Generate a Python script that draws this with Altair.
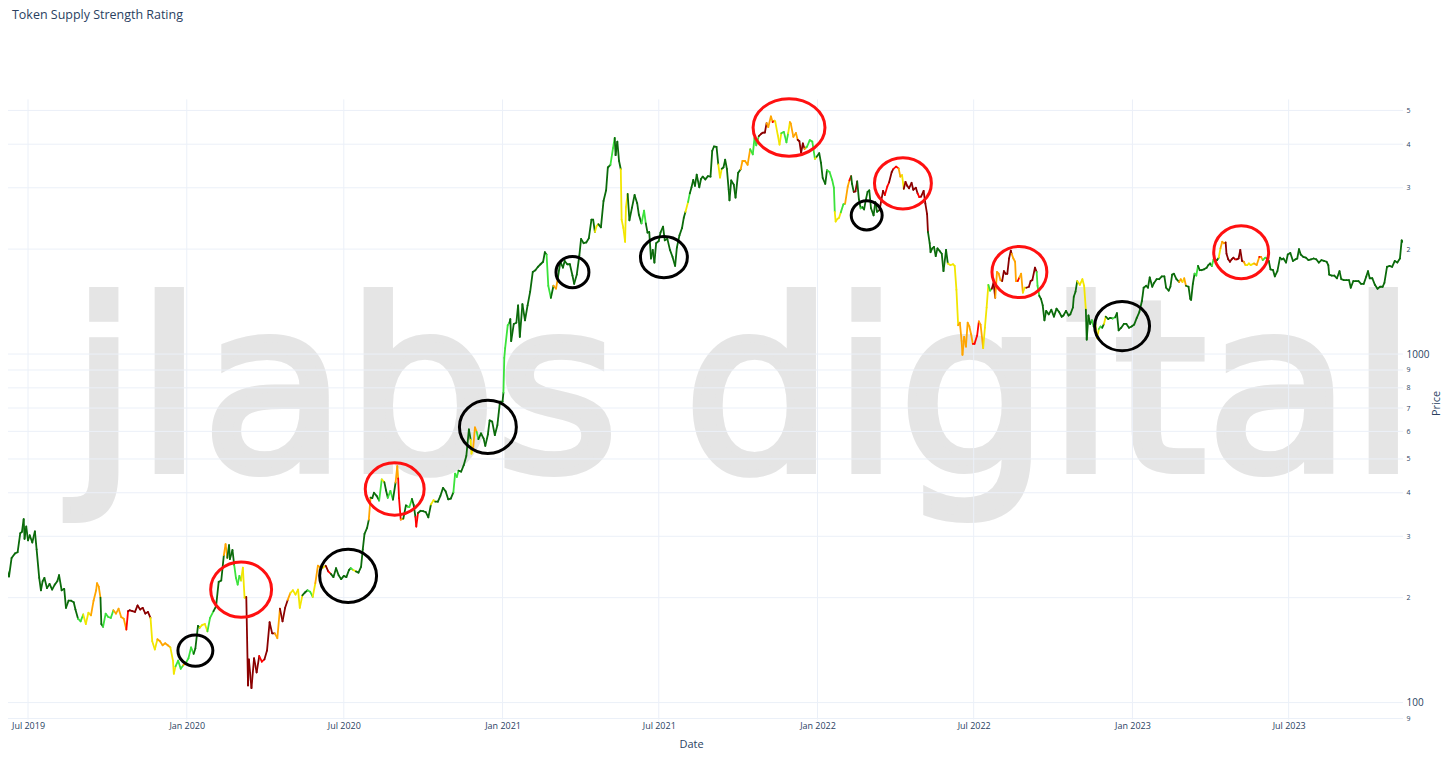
import altair as alt
import pandas as pd

TITLE = "Token Supply Strength Rating"
WATERMARK_WORDS = ["jlabs", "digital"]

# ETH price readings (month-day, USD) per year
eth_2019 = [
    ("06-05", 247), ("06-09", 230), ("06-12", 260), ("06-16", 268), ("06-19", 270), ("06-22", 306), ("06-24", 309), ("06-26", 336), ("06-27", 295), ("06-29", 320),
    ("07-01", 292), ("07-03", 302), ("07-06", 288), ("07-09", 310), ("07-11", 275), ("07-14", 228), ("07-16", 210), ("07-18", 223), ("07-20", 228), ("07-23", 213), ("07-26", 219), ("07-29", 211),
    ("08-01", 218), ("08-04", 223), ("08-06", 232), ("08-09", 210), ("08-12", 212), ("08-14", 187), ("08-17", 196), ("08-20", 196), ("08-23", 194), ("08-25", 185), ("08-28", 174), ("08-31", 171),
    ("09-03", 179), ("09-06", 168), ("09-09", 181), ("09-12", 178), ("09-15", 196), ("09-18", 210), ("09-19", 220), ("09-21", 215), ("09-23", 200), ("09-24", 168), ("09-26", 165), ("09-29", 180),
    ("10-02", 176), ("10-05", 175), ("10-08", 184), ("10-11", 180), ("10-14", 186), ("10-17", 176), ("10-20", 174), ("10-23", 162), ("10-25", 183), ("10-27", 184), ("10-30", 183),
    ("11-02", 182), ("11-05", 190), ("11-08", 185), ("11-11", 187), ("11-14", 180), ("11-17", 182), ("11-20", 175), ("11-22", 150), ("11-25", 142), ("11-28", 152),
    ("12-01", 150), ("12-04", 146), ("12-07", 148), ("12-10", 146), ("12-13", 144), ("12-16", 132), ("12-17", 121), ("12-19", 127), ("12-22", 132), ("12-25", 125), ("12-28", 128), ("12-31", 130),
]
eth_2020 = [
    ("01-03", 134), ("01-06", 144), ("01-09", 138), ("01-11", 143), ("01-14", 166), ("01-16", 164), ("01-19", 167), ("01-22", 168), ("01-25", 160), ("01-28", 175),
    ("02-01", 183), ("02-04", 189), ("02-07", 222), ("02-10", 224), ("02-13", 265), ("02-15", 285), ("02-17", 260), ("02-19", 283), ("02-20", 258), ("02-23", 274), ("02-25", 248), ("02-27", 228), ("02-29", 218),
    ("03-02", 231), ("03-04", 224), ("03-06", 244), ("03-08", 200), ("03-10", 201), ("03-12", 112), ("03-13", 133), ("03-16", 110), ("03-19", 134), ("03-22", 122), ("03-25", 136), ("03-28", 131), ("03-31", 133),
    ("04-03", 141), ("04-06", 170), ("04-09", 158), ("04-12", 158), ("04-15", 153), ("04-18", 186), ("04-21", 171), ("04-24", 187), ("04-27", 197), ("04-30", 206),
    ("05-03", 210), ("05-06", 204), ("05-09", 211), ("05-11", 187), ("05-14", 203), ("05-17", 207), ("05-20", 210), ("05-23", 208), ("05-26", 201), ("05-29", 220),
    ("06-01", 247), ("06-04", 244), ("06-07", 244), ("06-10", 247), ("06-13", 238), ("06-16", 234), ("06-19", 229), ("06-22", 243), ("06-25", 232), ("06-28", 226),
    ("07-01", 231), ("07-04", 229), ("07-07", 240), ("07-09", 243), ("07-12", 240), ("07-15", 238), ("07-18", 236), ("07-21", 245), ("07-23", 275), ("07-25", 305), ("07-28", 317), ("07-30", 335),
    ("08-01", 387), ("08-03", 386), ("08-05", 400), ("08-08", 392), ("08-11", 380), ("08-14", 437), ("08-17", 429), ("08-19", 406), ("08-21", 387), ("08-24", 405), ("08-27", 382), ("08-30", 428),
    ("09-01", 477), ("09-02", 440), ("09-03", 386), ("09-05", 335), ("09-08", 337), ("09-11", 368), ("09-13", 365), ("09-15", 364), ("09-18", 384), ("09-20", 369), ("09-22", 341), ("09-23", 320), ("09-25", 350), ("09-28", 355),
    ("10-01", 354), ("10-04", 352), ("10-07", 340), ("10-10", 370), ("10-13", 381), ("10-15", 377), ("10-18", 377), ("10-21", 392), ("10-24", 413), ("10-27", 404), ("10-30", 383),
    ("11-02", 385), ("11-05", 401), ("11-07", 454), ("11-09", 444), ("11-11", 463), ("11-14", 460), ("11-17", 480), ("11-20", 510), ("11-23", 608), ("11-25", 568), ("11-26", 518), ("11-28", 540), ("11-30", 616),
    ("12-02", 598), ("12-04", 570), ("12-07", 592), ("12-10", 573), ("12-12", 545), ("12-15", 588), ("12-17", 645), ("12-20", 640), ("12-23", 585), ("12-26", 625), ("12-29", 730),
]
eth_2021 = [
    ("01-01", 730), ("01-02", 775), ("01-03", 975), ("01-04", 1040), ("01-07", 1210), ("01-09", 1230), ("01-10", 1260), ("01-11", 1090), ("01-14", 1220), ("01-17", 1230), ("01-19", 1380), ("01-21", 1120), ("01-24", 1390), ("01-27", 1250), ("01-30", 1380),
    ("02-02", 1510), ("02-05", 1720), ("02-08", 1740), ("02-11", 1780), ("02-14", 1810), ("02-17", 1840), ("02-19", 1960), ("02-21", 1930), ("02-23", 1570), ("02-26", 1450),
    ("03-01", 1570), ("03-04", 1540), ("03-06", 1650), ("03-09", 1840), ("03-12", 1770), ("03-14", 1850), ("03-17", 1810), ("03-20", 1810), ("03-23", 1680), ("03-25", 1590), ("03-28", 1690), ("03-31", 1920),
    ("04-02", 2140), ("04-05", 2080), ("04-08", 2090), ("04-11", 2150), ("04-14", 2430), ("04-16", 2430), ("04-18", 2240), ("04-20", 2330), ("04-22", 2360), ("04-25", 2310), ("04-28", 2750),
    ("05-01", 2950), ("05-03", 3430), ("05-06", 3490), ("05-09", 3900), ("05-11", 4170), ("05-12", 3720), ("05-14", 4070), ("05-16", 3580), ("05-18", 3390), ("05-19", 2430), ("05-21", 2300), ("05-23", 2100), ("05-24", 2640), ("05-26", 2880), ("05-28", 2420), ("05-31", 2630),
    ("06-03", 2860), ("06-06", 2710), ("06-08", 2510), ("06-11", 2370), ("06-14", 2580), ("06-16", 2370), ("06-18", 2230), ("06-20", 2240), ("06-22", 1880), ("06-24", 1990), ("06-26", 1830), ("06-28", 2080),
    ("07-01", 2110), ("07-03", 2230), ("07-06", 2320), ("07-08", 2120), ("07-11", 2140), ("07-14", 1990), ("07-17", 1900), ("07-20", 1790), ("07-22", 2020), ("07-25", 2190), ("07-28", 2300), ("07-30", 2460),
    ("08-01", 2560), ("08-04", 2730), ("08-06", 2890), ("08-08", 3010), ("08-10", 3160), ("08-12", 3040), ("08-14", 3270), ("08-17", 3010), ("08-19", 3180), ("08-21", 3230), ("08-24", 3170), ("08-27", 3240), ("08-30", 3230),
    ("09-01", 3830), ("09-03", 3940), ("09-06", 3930), ("09-08", 3500), ("09-10", 3210), ("09-12", 3400), ("09-14", 3430), ("09-16", 3610), ("09-18", 3400), ("09-20", 2970), ("09-21", 2760), ("09-23", 3150), ("09-26", 3060), ("09-28", 2810),
    ("10-01", 3310), ("10-04", 3390), ("10-06", 3580), ("10-09", 3580), ("10-12", 3490), ("10-15", 3870), ("10-18", 3740), ("10-20", 4170), ("10-22", 3970), ("10-25", 4220), ("10-28", 4290), ("10-30", 4320),
    ("11-01", 4320), ("11-03", 4600), ("11-05", 4480), ("11-08", 4810), ("11-10", 4630), ("11-12", 4670), ("11-13", 4650), ("11-16", 4240), ("11-18", 3990), ("11-20", 4300), ("11-23", 4340), ("11-26", 4050), ("11-28", 4300), ("11-30", 4630),
    ("12-01", 4590), ("12-04", 4200), ("12-07", 4310), ("12-09", 4120), ("12-11", 4080), ("12-13", 3780), ("12-15", 4020), ("12-17", 3880), ("12-19", 3920), ("12-20", 3940), ("12-23", 4110), ("12-26", 4070), ("12-29", 3630), ("12-31", 3680),
]
eth_2022 = [
    ("01-03", 3770), ("01-05", 3540), ("01-07", 3200), ("01-10", 3080), ("01-12", 3370), ("01-15", 3330), ("01-18", 3160), ("01-20", 3000), ("01-21", 2560), ("01-22", 2400), ("01-24", 2440), ("01-26", 2460), ("01-28", 2550), ("01-31", 2690),
    ("02-02", 2700), ("02-05", 3020), ("02-07", 3150), ("02-09", 3240), ("02-10", 3080), ("02-12", 2920), ("02-14", 2930), ("02-16", 3130), ("02-18", 2780), ("02-20", 2620), ("02-22", 2640), ("02-24", 2600), ("02-26", 2770), ("02-28", 2920),
    ("03-02", 2950), ("03-04", 2620), ("03-07", 2500), ("03-09", 2730), ("03-11", 2560), ("03-14", 2590), ("03-16", 2770), ("03-18", 2940), ("03-20", 2860), ("03-23", 3030), ("03-25", 3110), ("03-28", 3330), ("03-30", 3400),
    ("04-02", 3450), ("04-05", 3410), ("04-07", 3230), ("04-09", 3260), ("04-11", 2980), ("04-13", 3120), ("04-15", 3040), ("04-17", 2990), ("04-20", 3100), ("04-22", 2960), ("04-25", 3000), ("04-27", 2890), ("04-29", 2820),
    ("05-01", 2830), ("05-04", 2940), ("05-06", 2700), ("05-08", 2520), ("05-09", 2240), ("05-11", 2080), ("05-12", 1960), ("05-14", 2010), ("05-16", 2030), ("05-18", 1910), ("05-20", 2010), ("05-23", 1970), ("05-25", 1940), ("05-27", 1730), ("05-30", 1990),
    ("06-01", 1820), ("06-04", 1800), ("06-07", 1810), ("06-09", 1790), ("06-11", 1530), ("06-13", 1210), ("06-15", 1230), ("06-17", 1090), ("06-18", 995), ("06-20", 1120), ("06-22", 1050), ("06-24", 1230), ("06-26", 1200), ("06-28", 1140), ("06-30", 1070),
    ("07-02", 1070), ("07-05", 1130), ("07-07", 1240), ("07-09", 1215), ("07-12", 1040), ("07-14", 1190), ("07-16", 1360), ("07-18", 1580), ("07-20", 1520), ("07-22", 1540), ("07-24", 1600), ("07-26", 1450), ("07-28", 1720), ("07-30", 1700),
    ("08-01", 1630), ("08-03", 1620), ("08-05", 1730), ("08-07", 1700), ("08-09", 1700), ("08-11", 1880), ("08-13", 1980), ("08-14", 1940), ("08-16", 1880), ("08-18", 1840), ("08-19", 1620), ("08-21", 1620), ("08-23", 1660), ("08-25", 1700), ("08-27", 1500), ("08-29", 1550), ("08-31", 1550),
    ("09-03", 1560), ("09-05", 1620), ("09-07", 1630), ("09-10", 1770), ("09-12", 1720), ("09-13", 1570), ("09-15", 1470), ("09-17", 1440), ("09-19", 1380), ("09-21", 1250), ("09-23", 1330), ("09-26", 1300), ("09-29", 1340),
    ("10-02", 1280), ("10-05", 1350), ("10-08", 1320), ("10-11", 1280), ("10-13", 1290), ("10-16", 1330), ("10-19", 1290), ("10-21", 1300), ("10-24", 1360), ("10-25", 1460), ("10-27", 1510), ("10-29", 1620),
    ("11-01", 1580), ("11-04", 1640), ("11-06", 1570), ("11-08", 1340), ("11-09", 1100), ("11-11", 1290), ("11-13", 1220), ("11-15", 1250), ("11-17", 1200), ("11-19", 1220), ("11-21", 1110), ("11-23", 1180), ("11-25", 1200), ("11-27", 1190), ("11-29", 1220),
    ("12-01", 1280), ("12-04", 1260), ("12-06", 1270), ("12-09", 1265), ("12-12", 1275), ("12-14", 1310), ("12-16", 1170), ("12-19", 1190), ("12-22", 1220), ("12-25", 1220), ("12-28", 1190), ("12-31", 1200),
]
eth_2023 = [
    ("01-03", 1215), ("01-06", 1270), ("01-09", 1320), ("01-12", 1420), ("01-14", 1550), ("01-17", 1570), ("01-19", 1550), ("01-21", 1660), ("01-24", 1560), ("01-26", 1600), ("01-29", 1640),
    ("02-01", 1640), ("02-04", 1670), ("02-07", 1670), ("02-09", 1550), ("02-12", 1520), ("02-14", 1560), ("02-16", 1690), ("02-18", 1700), ("02-21", 1640), ("02-24", 1610), ("02-26", 1640), ("02-28", 1610),
    ("03-02", 1650), ("03-04", 1570), ("03-07", 1560), ("03-09", 1440), ("03-10", 1430), ("03-12", 1590), ("03-14", 1700), ("03-16", 1680), ("03-18", 1790), ("03-20", 1740), ("03-22", 1740), ("03-25", 1750), ("03-28", 1770), ("03-30", 1800),
    ("04-01", 1820), ("04-03", 1790), ("04-05", 1870), ("04-07", 1860), ("04-09", 1860), ("04-11", 1890), ("04-13", 2010), ("04-15", 2100), ("04-17", 2080), ("04-19", 2090), ("04-20", 1940), ("04-22", 1870), ("04-24", 1840), ("04-26", 1870), ("04-28", 1890), ("04-30", 1870),
    ("05-02", 1870), ("05-04", 1880), ("05-06", 1990), ("05-08", 1850), ("05-10", 1840), ("05-12", 1800), ("05-14", 1800), ("05-16", 1820), ("05-18", 1800), ("05-20", 1810), ("05-22", 1820), ("05-25", 1800), ("05-28", 1900), ("05-30", 1900),
    ("06-01", 1860), ("06-04", 1890), ("06-06", 1880), ("06-08", 1850), ("06-10", 1750), ("06-13", 1740), ("06-15", 1670), ("06-18", 1730), ("06-21", 1890), ("06-23", 1870), ("06-25", 1880), ("06-28", 1830), ("06-30", 1930),
    ("07-03", 1950), ("07-06", 1850), ("07-09", 1870), ("07-11", 1880), ("07-13", 2000), ("07-15", 1930), ("07-18", 1900), ("07-21", 1890), ("07-24", 1860), ("07-27", 1870), ("07-30", 1880),
    ("08-02", 1870), ("08-05", 1830), ("08-08", 1860), ("08-11", 1850), ("08-14", 1840), ("08-16", 1800), ("08-17", 1690), ("08-20", 1680), ("08-23", 1680), ("08-26", 1650), ("08-29", 1730), ("08-31", 1640),
    ("09-03", 1630), ("09-06", 1630), ("09-09", 1630), ("09-11", 1550), ("09-14", 1620), ("09-17", 1620), ("09-20", 1620), ("09-23", 1590), ("09-26", 1590), ("09-29", 1670),
    ("10-01", 1730), ("10-03", 1650), ("10-06", 1650), ("10-09", 1580), ("10-12", 1540), ("10-15", 1560), ("10-18", 1560), ("10-20", 1600), ("10-23", 1780), ("10-26", 1790), ("10-29", 1780),
    ("11-01", 1850), ("11-04", 1830), ("11-07", 1880), ("11-09", 2120), ("11-10", 2100),
]

# Supply strength rating: date from which each rating applies
rating_start = [
    "2019-06-01", "2019-08-27", "2019-09-02", "2019-09-11", "2019-09-22", "2019-09-25", "2019-10-07", "2019-10-22", "2019-10-24", "2019-11-19",
    "2019-11-27", "2019-12-12", "2019-12-18", "2019-12-27", "2019-12-30", "2020-01-08", "2020-01-15", "2020-01-24", "2020-01-31", "2020-02-12",
    "2020-02-16", "2020-02-24", "2020-03-03", "2020-03-10", "2020-03-24", "2020-03-30", "2020-04-11", "2020-04-17", "2020-04-26", "2020-04-29",
    "2020-05-13", "2020-05-19", "2020-05-25", "2020-05-28", "2020-06-03", "2020-06-09", "2020-06-12", "2020-06-15", "2020-07-08", "2020-07-11",
    "2020-07-14", "2020-07-29", "2020-07-31", "2020-08-10", "2020-08-13", "2020-08-16", "2020-08-20", "2020-08-26", "2020-08-29", "2020-09-02",
    "2020-09-04", "2020-09-07", "2020-09-12", "2020-09-17", "2020-09-21", "2020-09-24", "2020-10-09", "2020-10-14", "2020-11-04", "2020-11-10",
    "2020-11-25", "2020-11-28", "2020-12-01", "2020-12-03", "2021-01-02", "2021-01-09", "2021-02-20", "2021-02-25", "2021-02-28", "2021-03-05",
    "2021-04-17", "2021-04-21", "2021-05-05", "2021-05-11", "2021-05-17", "2021-05-25", "2021-06-10", "2021-06-15", "2021-07-31", "2021-08-03",
    "2021-08-05", "2021-09-07", "2021-09-11", "2021-10-02", "2021-10-14", "2021-10-25", "2021-11-02", "2021-11-09", "2021-11-12", "2021-11-19",
    "2021-11-27", "2021-11-30", "2021-12-08", "2021-12-16", "2021-12-19", "2021-12-28", "2021-12-31", "2022-01-12", "2022-01-21", "2022-01-27",
    "2022-02-01", "2022-02-06", "2022-02-08", "2022-02-11", "2022-02-15", "2022-02-19", "2022-02-21", "2022-03-13", "2022-03-19", "2022-03-24",
    "2022-03-29", "2022-04-04", "2022-04-08", "2022-04-10", "2022-04-26", "2022-04-30", "2022-05-09", "2022-05-31", "2022-06-13", "2022-06-30",
    "2022-07-07", "2022-07-11", "2022-07-17", "2022-07-21", "2022-07-25", "2022-08-02", "2022-08-14", "2022-08-20", "2022-08-22", "2022-08-26",
    "2022-08-30", "2022-09-11", "2022-09-14", "2022-10-28", "2022-11-07", "2022-11-14", "2022-11-18", "2022-11-22", "2022-11-26", "2022-11-28",
    "2022-11-30", "2022-12-08", "2022-12-11", "2023-02-24", "2023-02-27", "2023-03-01", "2023-03-03", "2023-03-13", "2023-03-17", "2023-04-02",
    "2023-04-06", "2023-04-10", "2023-04-12", "2023-04-18", "2023-04-19", "2023-04-29", "2023-05-01", "2023-05-09", "2023-05-11", "2023-05-21",
    "2023-05-27", "2023-05-29", "2023-05-31", "2023-06-05",
]
rating_code = [
    "dg", "lg", "y", "o", "dg", "lg", "o", "r", "dr", "y",
    "o", "y", "lg", "o", "lg", "dg", "y", "lg", "dg", "o",
    "dg", "lg", "y", "dr", "r", "dr", "o", "dr", "o", "y",
    "dg", "lg", "y", "o", "y", "dr", "r", "dg", "lg", "y",
    "dg", "o", "dg", "lg", "y", "dg", "lg", "dg", "o", "r",
    "o", "dg", "lg", "dg", "r", "dg", "y", "dg", "lg", "dg",
    "y", "o", "lg", "dg", "lg", "dg", "lg", "dg", "o", "dg",
    "y", "dg", "lg", "dg", "y", "dg", "lg", "dg", "y", "lg",
    "dg", "y", "dg", "o", "lg", "dr", "o", "r", "y", "lg",
    "y", "o", "dr", "o", "lg", "y", "dg", "lg", "y", "lg",
    "o", "r", "dg", "dr", "dg", "lg", "dg", "dr", "r", "dr",
    "r", "o", "y", "dr", "r", "dr", "dg", "y", "o", "r",
    "o", "y", "lg", "dr", "o", "dr", "o", "r", "o", "y",
    "dr", "lg", "dg", "y", "dg", "lg", "y", "lg", "dg", "y",
    "dg", "lg", "dg", "o", "y", "o", "dg", "lg", "dg", "lg",
    "dg", "y", "o", "r", "dr", "r", "dr", "o", "y", "o",
    "r", "o", "lg", "dg",
]
rating_levels = ["dg", "lg", "y", "o", "r", "dr"]
rating_colors = ["#0b6b0b", "#3be23b", "#f2e600", "#ffa500", "#ff0000", "#8b0000"]

# Annotation ellipses (centre date, centre price, width px, height px, colour)
circle_dates = ["2020-03-04", "2020-08-29", "2021-11-29", "2022-04-10", "2022-08-23", "2023-05-07",
                "2020-01-11", "2020-07-06", "2020-12-15", "2021-03-23", "2021-07-07", "2022-02-27", "2022-12-20"]
circle_prices = [211, 410, 4470, 3090, 1720, 1960, 141, 231, 618, 1718, 1897, 2500, 1203]
circle_w = [64, 62, 75, 60, 58, 58, 38, 60, 60, 36, 50, 34, 58]
circle_h = [58, 55, 60, 54, 54, 56, 34, 56, 56, 34, 44, 32, 52]
circle_colors = ["#ff1010"] * 6 + ["#000000"] * 7

y_ticks = [90, 100, 200, 300, 400, 500, 600, 700, 800, 900, 1000, 2000, 3000, 4000, 5000]
x_ticks = ["2019-07-01", "2020-01-01", "2020-07-01", "2021-01-01", "2021-07-01",
           "2022-01-01", "2022-07-01", "2023-01-01", "2023-07-01"]

# ---------------- build tables ----------------
rows = []
for year, pairs in [(2019, eth_2019), (2020, eth_2020), (2021, eth_2021), (2022, eth_2022), (2023, eth_2023)]:
    for md, p in pairs:
        rows.append((f"{year}-{md}", p))
df = pd.DataFrame(rows, columns=["date", "price"])
df["date"] = pd.to_datetime(df["date"])
df = df.sort_values("date").reset_index(drop=True)
runs = pd.DataFrame({"date": pd.to_datetime(rating_start), "rating": rating_code}).sort_values("date")
df = pd.merge_asof(df, runs, on="date", direction="backward")
df["rating"] = df["rating"].fillna("dg")
df["date2"] = df["date"].shift(-1)
df["price2"] = df["price"].shift(-1)
seg = df.iloc[:-1].copy()
for c in ["date", "date2"]:
    seg[c] = seg[c].dt.strftime("%Y-%m-%dT00:00:00")


def ellipse_path(r):
    k = 0.5523
    return (f"M -1 0 C -1 {-k*r:.4f} {-k:.4f} {-r:.4f} 0 {-r:.4f} "
            f"C {k:.4f} {-r:.4f} 1 {-k*r:.4f} 1 0 "
            f"C 1 {k*r:.4f} {k:.4f} {r:.4f} 0 {r:.4f} "
            f"C {-k:.4f} {r:.4f} -1 {k*r:.4f} -1 0 Z")


circ = pd.DataFrame({
    "date": [d + "T00:00:00" for d in circle_dates],
    "price": circle_prices,
    "size": [(w - 3) ** 2 for w in circle_w],
    "path": [ellipse_path(h / w) for w, h in zip(circle_w, circle_h)],
    "col": circle_colors,
})
ygrid_df = pd.DataFrame({"price": y_ticks})
xgrid_df = pd.DataFrame({"date": [d + "T00:00:00" for d in x_ticks]})

TXT = "#2a3f5f"
GRID = "#EBF0F8"
FONT = "Open Sans"
WM = "#e5e5e5"

x_scale = alt.Scale(domain=[alt.DateTime(year=2019, month=6, date=7, hours=20),
                            alt.DateTime(year=2023, month=11, date=10, hours=15)])
y_scale = alt.Scale(type="log", domain=[89.4, 5379], nice=False)

x_axis = alt.Axis(
    values=[alt.DateTime(year=int(d[:4]), month=int(d[5:7]), date=1) for d in x_ticks],
    format="%b %Y", labelFontSize=9, labelColor=TXT, labelFont=FONT, labelFlush=False,
    labelOverlap=False, ticks=False, domain=False, grid=False, labelPadding=2,
    title="Date", titleFont=FONT, titleFontSize=11, titleFontWeight="normal", titleColor=TXT,
    titleX=684, titleY=25, titleBaseline="middle", titleAlign="center",
)
y_axis = alt.Axis(
    orient="right", values=y_ticks,
    labelExpr=("datum.value == 100 || datum.value == 1000 ? '' + datum.value : "
               "format(round(datum.value / pow(10, floor(log(datum.value) / LN10 + 1e-9))), 'd')"),
    labelFontSize={"condition": {"test": "datum.value == 100 || datum.value == 1000", "value": 10}, "value": 7},
    labelColor=TXT, labelFont=FONT, labelPadding=3, labelOverlap=False, labelFlush=False,
    ticks=False, domain=False, grid=False,
    title="Price", titleFont=FONT, titleFontSize=11, titleFontWeight="normal", titleColor=TXT,
    titleAngle=270, titleX=33, titleY=304, titleAlign="center", titleBaseline="middle",
)

X = alt.X("date:T", scale=x_scale, axis=x_axis)
Y = alt.Y("price:Q", scale=y_scale, axis=y_axis)

wm_left = alt.Chart(pd.DataFrame({"t": [WATERMARK_WORDS[0]]})).mark_text(
    font="DejaVu Sans", fontSize=236, color=WM, stroke=WM, strokeWidth=8,
    align="left", baseline="alphabetic",
).encode(text="t:N", x=alt.value(63), y=alt.value(371))
wm_right = alt.Chart(pd.DataFrame({"t": [WATERMARK_WORDS[1]]})).mark_text(
    font="DejaVu Sans", fontSize=236, color=WM, stroke=WM, strokeWidth=8,
    align="right", baseline="alphabetic",
).encode(text="t:N", x=alt.value(1410), y=alt.value(371))

ygrid = alt.Chart(ygrid_df).mark_rule(color=GRID, strokeWidth=1).encode(y=Y)
xgrid = alt.Chart(xgrid_df).mark_rule(color=GRID, strokeWidth=1).encode(x=X)

price = alt.Chart(seg).mark_rule(strokeWidth=1.8, strokeCap="round", clip=True).encode(
    x=X,
    x2="date2:T",
    y=Y,
    y2="price2:Q",
    color=alt.Color("rating:N", scale=alt.Scale(domain=rating_levels, range=rating_colors), legend=None),
)

ellipses = alt.Chart(circ).mark_point(filled=False, strokeWidth=3, opacity=1).encode(
    x=X,
    y=Y,
    shape=alt.Shape("path:N", scale=None),
    size=alt.Size("size:Q", scale=None),
    stroke=alt.Stroke("col:N", scale=None),
)

chart = alt.layer(wm_left, wm_right, ygrid, xgrid, price, ellipses).properties(
    width=1397, height=621,
    padding={"left": 0, "top": 91, "right": 45, "bottom": 35},
    autosize=alt.AutoSizeParams(type="none"),
    background="white",
    title=alt.TitleParams(
        text=TITLE, anchor="start", frame="group", orient="top", offset=71, dx=4,
        font=FONT, fontSize=12.5, fontWeight="normal", color=TXT,
    ),
).configure_view(stroke=None)

chart.save("out.html", embed_options={"renderer": "svg", "actions": False})
